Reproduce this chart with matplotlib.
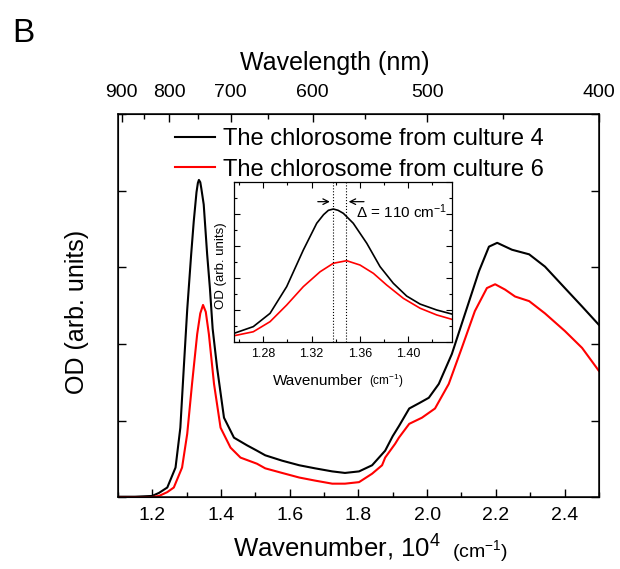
import numpy as np
import matplotlib
matplotlib.use("Agg")
import matplotlib.pyplot as plt

plt.rcParams["font.family"] = ["Liberation Sans", "DejaVu Sans"]
plt.rcParams["mathtext.fontset"] = "custom"
plt.rcParams["mathtext.rm"] = "Liberation Sans"
plt.rcParams["mathtext.it"] = "Liberation Sans:italic"

# Main spectra (wavenumber in 10^4 cm-1, OD in arb. units)
wn_black = [1.10, 1.15, 1.20, 1.22, 1.244, 1.268, 1.282, 1.292, 1.302, 1.3135, 1.321, 1.329,
            1.333, 1.336, 1.340, 1.343, 1.350, 1.360, 1.368, 1.376, 1.389, 1.409, 1.438,
            1.476, 1.505, 1.529, 1.578, 1.628, 1.674, 1.724, 1.761, 1.802, 1.84, 1.878,
            1.90, 1.918, 1.948, 1.977, 2.005, 2.034, 2.072, 2.11, 2.151, 2.18, 2.204,
            2.247, 2.297, 2.343, 2.401, 2.451, 2.50]
od_black = [0.01, 0.01, 0.02, 0.06, 0.13, 0.39, 0.91, 1.69, 2.45, 3.17, 3.60, 3.98,
            4.10, 4.14, 4.11, 4.03, 3.82, 3.17, 2.73, 2.20, 1.69, 1.04, 0.78,
            0.68, 0.61, 0.55, 0.48, 0.42, 0.38, 0.34, 0.32, 0.34, 0.42, 0.61,
            0.80, 0.93, 1.16, 1.23, 1.30, 1.48, 1.87, 2.39, 2.95, 3.27, 3.32,
            3.23, 3.17, 3.01, 2.73, 2.49, 2.25]

wn_red = [1.10, 1.20, 1.22, 1.244, 1.263, 1.287, 1.302, 1.316, 1.331, 1.340, 1.348, 1.356,
          1.365, 1.380, 1.399, 1.428, 1.457, 1.505, 1.529, 1.578, 1.628, 1.674, 1.724,
          1.761, 1.802, 1.84, 1.869, 1.878, 1.907, 1.918, 1.948, 1.985, 2.023, 2.063,
          2.101, 2.139, 2.174, 2.198, 2.227, 2.256, 2.297, 2.343, 2.401, 2.451, 2.50]
od_red = [0.005, 0.005, 0.02, 0.07, 0.13, 0.39, 0.83, 1.48, 2.13, 2.40, 2.51, 2.42,
          2.13, 1.48, 0.91, 0.65, 0.52, 0.44, 0.38, 0.32, 0.26, 0.22, 0.18,
          0.18, 0.20, 0.31, 0.42, 0.52, 0.70, 0.78, 0.96, 1.04, 1.16, 1.48,
          1.95, 2.43, 2.73, 2.78, 2.71, 2.62, 2.56, 2.40, 2.17, 1.95, 1.65]

# Inset: Qy band region
wn_in_black = [1.2557, 1.2717, 1.2856, 1.2994, 1.3132, 1.3243, 1.3300, 1.3340, 1.3381,
               1.3420, 1.3464, 1.3546, 1.3658, 1.3768, 1.3878, 1.3989, 1.41, 1.4238, 1.4362]
od_in_black = [0.56, 0.98, 1.81, 3.48, 5.77, 7.44, 7.98, 8.25, 8.33,
               8.25, 8.06, 7.44, 6.19, 4.73, 3.69, 2.89, 2.39, 2.02, 1.77]
wn_in_red = [1.2557, 1.2717, 1.2856, 1.2994, 1.3132, 1.3271, 1.3381, 1.3491, 1.3602,
             1.3713, 1.3823, 1.3961, 1.41, 1.4238, 1.4362]
od_in_red = [0.41, 0.66, 1.29, 2.33, 3.48, 4.41, 4.94, 5.10, 4.83,
             4.31, 3.58, 2.75, 2.13, 1.71, 1.44]
peak_black = 1.3375
peak_red = 1.3485

labels = ["The chlorosome from culture 4", "The chlorosome from culture 6"]
wl_major = [900, 800, 700, 600, 500, 400]
wl_minor = [850, 750, 650, 550, 450]

fig = plt.figure(figsize=(6.2, 5.69), dpi=100)
ax = fig.add_axes([0.190, 0.1257, 0.776, 0.674])

ax.plot(wn_black, od_black, color="k", lw=1.5, label=labels[0])
ax.plot(wn_red, od_red, color="#ff0000", lw=1.5, label=labels[1])
ax.set_xlim(1.1, 2.5)
ax.set_ylim(0, 5)
ax.set_xticks(np.arange(1.2, 2.41, 0.2))
ax.set_xticks(np.arange(1.1, 2.51, 0.1), minor=True)
ax.set_xticklabels([f"{v:.1f}" for v in np.arange(1.2, 2.41, 0.2)])
ax.set_yticks([0, 1, 2, 3, 4, 5])
ax.set_yticklabels([])
ax.tick_params(which="both", direction="in", right=True, top=False, width=1)
ax.tick_params(which="major", length=6, labelsize=14, pad=7)
ax.tick_params(which="minor", length=3.5)
for s in ax.spines.values():
    s.set_linewidth(1.1)

ax2 = ax.twiny()
ax2.set_xlim(ax.get_xlim())
ax2.set_xticks([1000 / w for w in wl_major])
ax2.set_xticklabels([str(w) for w in wl_major])
ax2.set_xticks([1000 / w for w in wl_minor], minor=True)
ax2.tick_params(which="both", direction="in", width=1)
ax2.tick_params(which="major", length=6, labelsize=14, pad=9)
ax2.tick_params(which="minor", length=3.5)

fig.text(240 / 620, 1 - 70 / 569, "Wavelength (nm)", fontsize=18, va="baseline")
fig.text(233 / 620, 1 - 557 / 569, "Wavenumber, 10$^4$", fontsize=18.5, va="baseline")
fig.text(452 / 620, 1 - 557 / 569, "(cm$^{-1}$)", fontsize=14, va="baseline")
fig.text(77 / 620, 1 - 312 / 569, "OD (arb. units)", fontsize=18, rotation=90,
         ha="center", va="center")
fig.text(12 / 620, 1 - 42 / 569, "B", fontsize=24, va="baseline")

ax.legend(loc="upper left", bbox_to_anchor=(175 / 620, 1 - 128 / 569),
          bbox_transform=fig.transFigure, frameon=False, fontsize=17,
          borderpad=0, borderaxespad=0, handlelength=1.7, handletextpad=0.35,
          labelspacing=0.37)

# Inset
axi = fig.add_axes([0.3774, 0.3984, 0.3511, 0.2812])
axi.plot(wn_in_black, od_in_black, color="k", lw=1.2)
axi.plot(wn_in_red, od_in_red, color="#ff0000", lw=1.2)
axi.axvline(peak_black, color="k", ls=":", lw=0.8)
axi.axvline(peak_red, color="k", ls=":", lw=0.8)
axi.set_xlim(1.2557, 1.4362)
axi.set_ylim(0, 10)
axi.set_xticks([1.28, 1.32, 1.36, 1.40])
axi.set_xticklabels(["1.28", "1.32", "1.36", "1.40"])
axi.set_xticks([1.26, 1.30, 1.34, 1.38, 1.42], minor=True)
axi.set_yticks([0, 2, 4, 6, 8, 10])
axi.set_yticks([1, 3, 5, 7, 9], minor=True)
axi.set_yticklabels([])
axi.tick_params(which="both", direction="in", top=True, right=True, width=0.8)
axi.tick_params(which="major", length=4, labelsize=9, pad=4)
axi.tick_params(which="minor", length=2)
for s in axi.spines.values():
    s.set_linewidth(0.9)

arrow_y = 8.79
axi.annotate("", xy=(peak_black, arrow_y), xytext=(1.3229, arrow_y),
             arrowprops=dict(arrowstyle="->", color="k", lw=0.9))
axi.annotate("", xy=(peak_red, arrow_y), xytext=(1.3658, arrow_y),
             arrowprops=dict(arrowstyle="->", color="k", lw=0.9))
axi.text(1.3565, 8.15, "\u0394 = 110 cm$^{-1}$", fontsize=11, va="center")

fig.text(273 / 620, 1 - 385 / 569, "Wavenumber", fontsize=11, va="baseline")
fig.text(369 / 620, 1 - 385 / 569, "(cm$^{-1}$)", fontsize=8.5, va="baseline")
fig.text(221 / 620, 1 - 266 / 569, "OD (arb. units)", fontsize=9.5, rotation=90,
         ha="center", va="center")

fig.savefig("out.png", dpi=100)
